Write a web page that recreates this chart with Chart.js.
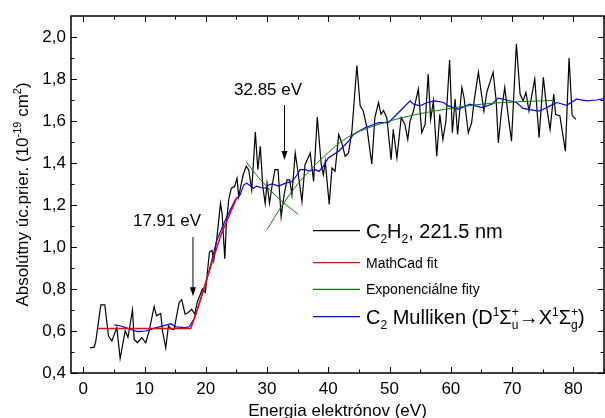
<!DOCTYPE html>
<html lang="sk">
<head>
<meta charset="UTF-8">
<title>Absolútny účinný prierez</title>
<script src="https://cdn.jsdelivr.net/npm/chart.js"></script>
<style>
    html, body { margin: 0; padding: 0; background: #fff; }
    #obal { width: 605px; height: 418px; position: relative; }
</style>
</head>
<body>
<div id="obal"><canvas id="graf"></canvas></div>
<script>
// C2H2, 221.5 nm - namerany priebeh
const energiaC2H2 = [1.08, 1.8, 2.05, 2.87, 3.52, 4.12, 4.67, 5.48, 6.02, 6.84, 7.3, 8.04, 8.31, 8.85, 9.56, 10.2, 10.75, 11.57, 11.95, 12.65, 12.93, 13.47, 13.9, 14.3, 14.83, 15.65, 16.07, 16.62, 17.16, 17.7, 18.2, 18.6, 19.45, 19.93, 20.6, 21.0, 21.3, 21.8, 22.4, 22.66, 23.1, 23.36, 23.74, 24.17, 24.7, 25.1, 25.37, 26.1, 26.6, 27.0, 27.5, 28.09, 28.5, 28.9, 29.3, 29.7, 30.0, 30.4, 30.8, 31.3, 31.8, 32.3, 32.8, 33.25, 33.7, 34.06, 34.6, 35.0, 35.7, 36.2, 37.05, 37.6, 38.2, 38.85, 39.2, 39.5, 40.15, 40.6, 41.1, 41.7, 42.2, 42.75, 43.3, 43.85, 44.66, 45.2, 45.7, 46.3, 47.1, 47.6, 48.2, 48.6, 49.0, 49.55, 50.25, 50.6, 51.2, 51.9, 52.5, 52.97, 53.35, 53.9, 54.7, 55.25, 55.8, 56.3, 56.7, 57.15, 57.7, 58.2, 58.7, 59.2, 59.8, 60.25, 60.7, 61.1, 61.8, 62.15, 62.85, 63.4, 63.8, 64.5, 65.0, 65.4, 65.9, 66.9, 67.4, 67.75, 68.3, 68.8, 69.4, 69.9, 70.7, 71.3, 71.8, 72.26, 72.75, 73.7, 74.4, 75.1, 75.6, 76.2, 76.8, 77.1, 77.8, 78.7, 79.3, 79.8, 80.4];
const prierezC2H2 = [0.52, 0.523, 0.552, 0.724, 0.724, 0.576, 0.553, 0.616, 0.469, 0.60, 0.57, 0.70, 0.56, 0.544, 0.568, 0.544, 0.60, 0.717, 0.672, 0.683, 0.60, 0.52, 0.624, 0.61, 0.608, 0.736, 0.749, 0.68, 0.688, 0.704, 0.68, 0.736, 0.80, 0.784, 0.976, 0.984, 0.936, 1.04, 1.208, 1.16, 0.944, 1.112, 1.224, 1.28, 1.288, 1.328, 1.24, 1.344, 1.384, 1.368, 1.272, 1.547, 1.368, 1.48, 1.288, 1.208, 1.304, 1.208, 1.288, 1.368, 1.368, 1.144, 1.25, 1.32, 1.32, 1.248, 1.448, 1.368, 1.216, 1.392, 1.448, 1.312, 1.619, 1.392, 1.344, 1.408, 1.203, 1.376, 1.36, 1.536, 1.496, 1.432, 1.448, 1.552, 1.864, 1.672, 1.648, 1.568, 1.395, 1.616, 1.688, 1.632, 1.65, 1.616, 1.416, 1.56, 1.424, 1.616, 1.584, 1.512, 1.60, 1.648, 1.752, 1.544, 1.584, 1.824, 1.608, 1.696, 1.432, 1.632, 1.512, 1.60, 1.89, 1.544, 1.704, 1.536, 1.76, 1.712, 1.544, 1.592, 1.696, 1.832, 1.728, 1.648, 1.74, 1.832, 1.696, 1.496, 1.656, 1.76, 1.616, 1.504, 1.968, 1.728, 1.696, 1.736, 1.648, 1.80, 1.52, 1.808, 1.672, 1.56, 1.728, 1.632, 1.624, 1.456, 1.90, 1.627, 1.608];

// MathCad fit
const energiaFit = [2.36, 17.54, 18.5, 20.5, 22.5, 25.1];
const prierezFit = [0.612, 0.612, 0.69, 0.88, 1.06, 1.237];

// exponencialne fity (klesajuci a rastuci)
const energiaExp1 = [26.6, 28.5, 30.5, 32.5, 35.1];
const prierezExp1 = [1.405, 1.335, 1.27, 1.215, 1.155];
const energiaExp2 = [30.0, 32.5, 35.0, 37.5, 40.0, 42.5, 45.0, 50.0, 55.0, 60.0, 65.0, 70.0, 76.8];
const prierezExp2 = [1.083, 1.20, 1.30, 1.38, 1.45, 1.51, 1.55, 1.60, 1.635, 1.66, 1.68, 1.69, 1.698];

// C2 Mulliken
const energiaC2 = [5.05, 6.0, 6.95, 8.0, 8.85, 10.2, 11.0, 12.4, 13.5, 14.3, 15.1, 16.7, 17.3, 18.2, 18.9, 19.6, 20.5, 21.8, 23.2, 24.8, 25.6, 26.2, 26.7, 27.3, 27.8, 28.3, 29.0, 29.7, 30.3, 30.8, 31.9, 33.0, 34.1, 34.9, 35.4, 36.2, 37.0, 37.9, 38.5, 39.3, 40.0, 41.7, 43.3, 44.1, 46.0, 48.2, 49.8, 50.9, 52.0, 53.35, 53.9, 55.0, 56.1, 57.4, 58.8, 59.6, 61.2, 63.1, 65.0, 66.7, 67.7, 69.1, 70.7, 71.8, 74.0, 74.5, 76.2, 77.3, 78.9, 80.5, 82.2, 83.8, 85.0];
const prierezC2 = [0.629, 0.625, 0.616, 0.605, 0.597, 0.60, 0.608, 0.62, 0.628, 0.635, 0.62, 0.616, 0.62, 0.664, 0.728, 0.79, 0.88, 1.032, 1.128, 1.224, 1.248, 1.296, 1.304, 1.29, 1.28, 1.29, 1.282, 1.28, 1.295, 1.30, 1.29, 1.304, 1.312, 1.344, 1.368, 1.368, 1.362, 1.368, 1.36, 1.39, 1.424, 1.456, 1.504, 1.536, 1.568, 1.592, 1.592, 1.624, 1.656, 1.696, 1.68, 1.672, 1.688, 1.696, 1.688, 1.672, 1.656, 1.68, 1.664, 1.68, 1.709, 1.70, 1.688, 1.66, 1.648, 1.648, 1.672, 1.688, 1.675, 1.704, 1.696, 1.70, 1.707];

// osi
const xTicky = [0, 10, 20, 30, 40, 50, 60, 70, 80];
const yTicky = [0.4, 0.6, 0.8, 1.0, 1.2, 1.4, 1.6, 1.8, 2.0];

// sipky s prahovymi energiami
const prahy = [17.91, 32.85];
const prahyText = ['17.91 eV', '32.85 eV'];
const prahyOd = [1.047, 1.676];
const prahyPo = [0.765, 1.414];
const prahyTextE = [13.67, 30.16];
const prahyTextY = [1.099, 1.723];

const PISMO = '"Liberation Sans", Arial, sans-serif';

function body(xs, ys) {
    return xs.map((x, i) => ({ x: x, y: ys[i] }));
}

// text s dolnymi/hornymi indexmi
function sirkaCasti(ctx, c) {
    ctx.font = c.s + 'px ' + PISMO;
    if (c.sup !== undefined) {
        return Math.max(ctx.measureText(c.sup).width, ctx.measureText(c.sub).width);
    }
    return ctx.measureText(c.t).width;
}
function sirkaTextu(ctx, casti) {
    return casti.reduce((s, c) => s + sirkaCasti(ctx, c), 0);
}
function kresliText(ctx, x, y, casti) {
    ctx.textBaseline = 'alphabetic';
    ctx.textAlign = 'left';
    casti.forEach(c => {
        ctx.font = c.s + 'px ' + PISMO;
        if (c.sup !== undefined) {
            ctx.fillText(c.sup, x, y - 8);
            ctx.fillText(c.sub, x, y + 5);
        } else {
            ctx.fillText(c.t, x, y + (c.dy || 0));
        }
        x += sirkaCasti(ctx, c);
    });
}

// polozky legendy v poradi datasetov 0..3
const legenda = [
    [{ t: 'C', s: 20 }, { t: '2', s: 12, dy: 5 }, { t: 'H', s: 20 }, { t: '2', s: 12, dy: 5 }, { t: ', 221.5 nm', s: 20 }],
    [{ t: 'MathCad fit', s: 14 }],
    [{ t: 'Exponenciálne fity', s: 14 }],
    [{ t: 'C', s: 20 }, { t: '2', s: 12, dy: 5 }, { t: ' Mulliken (D', s: 20 }, { t: '1', s: 12, dy: -8 }, { t: 'Σ', s: 20 },
     { sup: '+', sub: 'u', s: 12 }, { t: '→X', s: 20 }, { t: '1', s: 12, dy: -8 }, { t: 'Σ', s: 20 },
     { sup: '+', sub: 'g', s: 12 }, { t: ')', s: 20 }]
];

const doplnky = {
    id: 'doplnky',
    afterDraw(chart) {
        const ctx = chart.ctx;
        const a = chart.chartArea;
        const sx = chart.scales.x, sy = chart.scales.y;
        ctx.save();
        ctx.strokeStyle = '#000';
        ctx.fillStyle = '#000';

        // ramik
        ctx.lineWidth = 1.5;
        ctx.strokeRect(a.left, a.top, a.right - a.left, a.bottom - a.top);

        // ticky dovnutra
        ctx.lineWidth = 1;
        ctx.beginPath();
        for (let v = 0; v <= 85; v += 5) {
            const p = Math.round(sx.getPixelForValue(v)) + 0.5;
            const d = v % 10 === 0 ? 6 : 3.5;
            ctx.moveTo(p, a.bottom); ctx.lineTo(p, a.bottom - d);
            ctx.moveTo(p, a.top); ctx.lineTo(p, a.top + d);
        }
        for (let k = 4; k <= 20; k++) {
            const p = Math.round(sy.getPixelForValue(k / 10)) + 0.5;
            const d = k % 2 === 0 ? 6 : 3.5;
            ctx.moveTo(a.left, p); ctx.lineTo(a.left + d, p);
            ctx.moveTo(a.right, p); ctx.lineTo(a.right - d, p);
        }
        ctx.stroke();

        // sipky
        prahy.forEach((e, i) => {
            const px = sx.getPixelForValue(e);
            const y0 = sy.getPixelForValue(prahyOd[i]);
            const y1 = sy.getPixelForValue(prahyPo[i]);
            ctx.lineWidth = 1;
            ctx.beginPath();
            ctx.moveTo(px, y0); ctx.lineTo(px, y1 - 8);
            ctx.stroke();
            ctx.beginPath();
            ctx.moveTo(px - 3, y1 - 9); ctx.lineTo(px + 3, y1 - 9); ctx.lineTo(px, y1);
            ctx.closePath();
            ctx.fill();
            ctx.font = '17px ' + PISMO;
            ctx.textAlign = 'center';
            ctx.textBaseline = 'alphabetic';
            ctx.fillText(prahyText[i], sx.getPixelForValue(prahyTextE[i]), sy.getPixelForValue(prahyTextY[i]));
        });

        // legenda
        const riadky = [230.7, 262.7, 289.3, 316.7];
        legenda.forEach((polozka, i) => {
            const yy = riadky[i];
            ctx.strokeStyle = chart.data.datasets[i].borderColor;
            ctx.lineWidth = 1.2;
            ctx.beginPath();
            ctx.moveTo(a.left + 242, yy); ctx.lineTo(a.left + 289, yy);
            ctx.stroke();
            ctx.fillStyle = '#000';
            kresliText(ctx, a.left + 295, yy + polozka[0].s * 0.36, polozka);
        });

        // nazvy osi
        ctx.fillStyle = '#000';
        const xNazov = [{ t: 'Energia elektrónov (eV)', s: 17 }];
        kresliText(ctx, (a.left + a.right) / 2 - sirkaTextu(ctx, xNazov) / 2, 416, xNazov);

        const yNazov = [{ t: 'Absolútny úc.prier. (10', s: 17 }, { t: '-19', s: 11, dy: -7 },
                        { t: ' cm', s: 17 }, { t: '2', s: 11, dy: -7 }, { t: ')', s: 17 }];
        ctx.translate(22, (a.top + a.bottom) / 2);
        ctx.rotate(-Math.PI / 2);
        kresliText(ctx, -sirkaTextu(ctx, yNazov) / 2, 6, yNazov);
        ctx.restore();
    }
};

new Chart(document.getElementById('graf'), {
    type: 'line',
    data: {
        datasets: [{
            label: 'C2H2, 221.5 nm',
            data: body(energiaC2H2, prierezC2H2),
            borderColor: '#000000',
            borderWidth: 1.2,
            pointRadius: 0,
            tension: 0,
            order: 4
        }, {
            label: 'MathCad fit',
            data: body(energiaFit, prierezFit),
            borderColor: '#ff0000',
            borderWidth: 1.5,
            pointRadius: 0,
            order: 1
        }, {
            label: 'Exponenciálne fity',
            data: body(energiaExp2, prierezExp2),
            borderColor: '#008000',
            borderWidth: 1,
            pointRadius: 0,
            tension: 0.3,
            order: 2
        }, {
            label: 'C2 Mulliken',
            data: body(energiaC2, prierezC2),
            borderColor: '#0000ff',
            borderWidth: 1.2,
            pointRadius: 0,
            order: 3
        }, {
            label: 'Exponenciálne fity (pokles)',
            data: body(energiaExp1, prierezExp1),
            borderColor: '#008000',
            borderWidth: 1,
            pointRadius: 0,
            order: 2
        }]
    },
    options: {
        responsive: true,
        maintainAspectRatio: false,
        animation: false,
        devicePixelRatio: 1,
        layout: { padding: { top: 16, right: 1, left: 0, bottom: 0 } },
        plugins: {
            legend: { display: false },
            tooltip: { enabled: false }
        },
        scales: {
            x: {
                type: 'linear',
                min: -2,
                max: 85,
                grid: { display: false, drawTicks: false },
                border: { display: false },
                afterBuildTicks: s => { s.ticks = xTicky.map(v => ({ value: v })); },
                afterFit: s => { s.height = 45; },
                ticks: {
                    padding: 6,
                    color: '#000',
                    maxRotation: 0,
                    font: { family: PISMO, size: 17 }
                }
            },
            y: {
                min: 0.4,
                max: 2.1,
                grid: { display: false, drawTicks: false },
                border: { display: false },
                afterBuildTicks: s => { s.ticks = yTicky.map(v => ({ value: v })); },
                afterFit: s => { s.width = 71; },
                ticks: {
                    padding: 5,
                    color: '#000',
                    font: { family: PISMO, size: 17 },
                    callback: v => v.toFixed(1).replace('.', ',')
                }
            }
        }
    },
    plugins: [doplnky]
});
</script>
</body>
</html>
